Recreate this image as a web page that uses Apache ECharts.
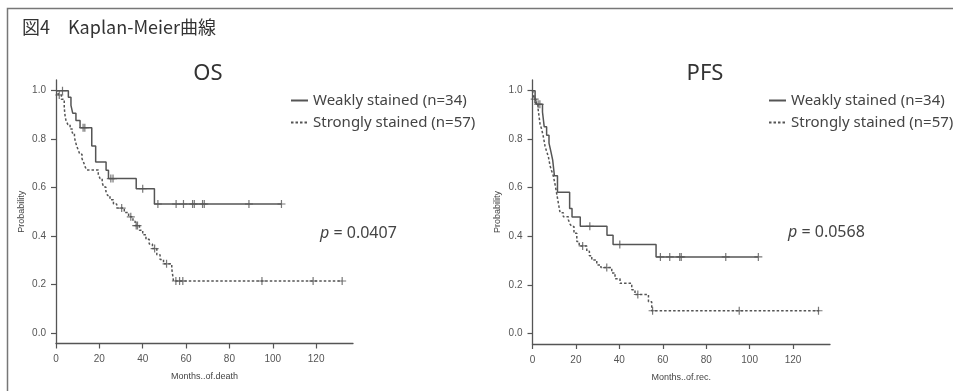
<!DOCTYPE html>
<html>
<head>
<meta charset="utf-8">
<script src="https://cdn.jsdelivr.net/npm/echarts@6/dist/echarts.min.js"></script>
<style>
  html, body { margin: 0; padding: 0; background: #fff; }
  #chart { width: 953px; height: 391px; }
</style>
</head>
<body>
<div id="chart"></div>
<script>
// OS, weakly stained (n=34): step times and survival after each step
const osWeakT = [0, 5.7, 6.9, 7.7, 9.2, 11.1, 16.5, 18.3, 23.1, 24.2, 37, 45.4, 104]
const osWeakS = [1, 0.973, 0.939, 0.907, 0.877, 0.847, 0.772, 0.705, 0.671, 0.637, 0.595, 0.532, 0.532]
const osWeakCens = [3, 12.5, 13.3, 25.3, 26.3, 40, 47, 55.4, 58.8, 63, 63.8, 67.6, 68.4, 89, 104]

// OS, strongly stained (n=57)
const osStrongT = [0, 1.0, 2.5, 3.8, 4.2, 4.6, 5.5, 6.5, 7.5, 8.5, 9.0, 9.5, 10.3, 11.0, 12.0, 12.8, 13.5, 14.2,
  19.5, 20.3, 21.3, 22.0, 23.0, 23.8, 24.9, 26.5, 28.0, 31.5, 33.5, 35.5, 36.5, 38.5, 40.0, 41.5, 43.0, 44.5,
  46.5, 48.0, 49.6, 53.4, 54.2, 132]
const osStrongS = [1, 0.982, 0.965, 0.93, 0.895, 0.877, 0.86, 0.842, 0.825, 0.807, 0.789, 0.772, 0.754, 0.737, 0.719, 0.702, 0.684, 0.672,
  0.655, 0.637, 0.62, 0.602, 0.585, 0.567, 0.55, 0.532, 0.515, 0.497, 0.479, 0.461, 0.443, 0.424, 0.405, 0.386, 0.367, 0.348,
  0.322, 0.303, 0.285, 0.265, 0.214, 0.214]
const osStrongCens = [1.5, 30.3, 34.5, 37, 37.6, 45.5, 51, 55.3, 57, 58.5, 95, 118.6, 132]

// PFS, weakly stained
const pfsWeakT = [0, 1.2, 1.9, 4.6, 5.4, 6.5, 7.6, 8.5, 9.3, 10.1, 11.5, 17.1, 18.2, 22.0, 34.3, 37.1, 56.9, 104]
const pfsWeakS = [1, 0.972, 0.944, 0.912, 0.851, 0.816, 0.784, 0.748, 0.714, 0.649, 0.581, 0.514, 0.479, 0.441, 0.404, 0.366, 0.315, 0.315]
const pfsWeakCens = [2.6, 3.4, 26.4, 40.2, 58.9, 63.2, 67.8, 68.5, 89, 104]

// PFS, strongly stained
const pfsStrongT = [0, 0.5, 1.5, 2.5, 3.0, 3.5, 4.2, 5.0, 5.8, 6.5, 7.3, 8.1, 8.8, 9.6, 10.3, 11.1, 11.9, 12.7, 14.2,
  16.5, 17.3, 18.1, 19.1, 20.4, 21.5, 25.0, 26.2, 27.3, 29.6, 31.5, 36.5, 38.0, 40.3, 45.7, 47.2, 53.4, 54.9, 132]
const pfsStrongS = [1, 0.965, 0.947, 0.93, 0.895, 0.86, 0.842, 0.81, 0.77, 0.75, 0.728, 0.69, 0.67, 0.648, 0.618, 0.578, 0.537, 0.497, 0.48,
  0.468, 0.45, 0.44, 0.412, 0.378, 0.36, 0.338, 0.32, 0.302, 0.282, 0.271, 0.249, 0.225, 0.206, 0.18, 0.16, 0.13, 0.093, 0.093]
const pfsStrongCens = [1.0, 23.1, 34.2, 48.5, 55.3, 95.2, 131.7]

const xTicks = [0, 20, 40, 60, 80, 100, 120]
const yTicks = [0, 0.2, 0.4, 0.6, 0.8, 1.0]
const weakName = 'Weakly stained (n=34)'
const strongName = 'Strongly stained (n=57)'

const lineColor = '#555'
const plusPath = 'path://M3.4,0 H4.6 V3.4 H8 V4.6 H4.6 V8 H3.4 V4.6 H0 V3.4 H3.4 Z'

// survival value at time t (for placing censor marks on the curve)
function survAt(T, S, t) {
  let v = S[0]
  for (let i = 0; i < T.length; i++) {
    if (T[i] <= t) v = S[i]
  }
  return v
}

function curve(name, T, S, idx, dashed) {
  return {
    name: name,
    type: 'line',
    step: 'end',
    xAxisIndex: idx,
    yAxisIndex: idx,
    symbol: 'none',
    silent: true,
    lineStyle: { color: lineColor, width: 1.5, type: dashed ? [2.5, 2] : 'solid' },
    itemStyle: { color: lineColor },
    data: T.map((t, i) => [t, S[i]])
  }
}

function censors(T, S, C, idx) {
  return {
    type: 'scatter',
    xAxisIndex: idx,
    yAxisIndex: idx,
    symbol: plusPath,
    symbolSize: 8,
    silent: true,
    itemStyle: { color: lineColor },
    data: C.map(t => [t, survAt(T, S, t)])
  }
}

function xAxis(idx, name) {
  return {
    type: 'value',
    gridIndex: idx,
    min: 0,
    max: 137,
    name: name,
    nameLocation: 'middle',
    nameGap: 29,
    nameTextStyle: { fontSize: 9, color: '#444', fontFamily: 'Liberation Sans' },
    axisLine: { onZero: false, lineStyle: { color: lineColor, width: 1.3 } },
    axisTick: { customValues: xTicks, length: 5, lineStyle: { color: lineColor, width: 1.2 } },
    axisLabel: { customValues: xTicks, fontSize: 10, color: '#555', margin: 11, fontFamily: 'Liberation Sans' },
    splitLine: { show: false }
  }
}

function yAxis(idx) {
  return {
    type: 'value',
    gridIndex: idx,
    min: -0.044,
    max: 1.044,
    name: 'Probability',
    nameLocation: 'middle',
    nameGap: 30,
    nameTextStyle: { fontSize: 9, color: '#444', fontFamily: 'Liberation Sans' },
    axisLine: { show: true, onZero: false, lineStyle: { color: lineColor, width: 1.3 } },
    axisTick: { show: true, customValues: yTicks, length: 5, lineStyle: { color: lineColor, width: 1.2 } },
    axisLabel: {
      customValues: yTicks,
      fontSize: 10,
      color: '#555',
      margin: 10,
      fontFamily: 'Liberation Sans',
      formatter: v => v.toFixed(1)
    },
    splitLine: { show: false }
  }
}

function legend(left) {
  return {
    orient: 'vertical',
    left: left,
    top: 93,
    padding: 0,
    itemWidth: 17,
    itemHeight: 14,
    itemGap: 7,
    selectedMode: false,
    itemStyle: { opacity: 0 },
    textStyle: { fontSize: 15, color: '#444', fontFamily: 'Noto Sans' },
    data: [weakName, strongName]
  }
}

function pText(left, top, val) {
  return {
    text: '{i|p} = ' + val,
    left: left,
    top: top,
    padding: 0,
    textAlign: 'left',
    textVerticalAlign: 'middle',
    textStyle: {
      fontSize: 16,
      fontWeight: 'normal',
      color: '#444',
      fontFamily: 'Noto Sans',
      rich: { i: { fontStyle: 'italic', fontSize: 16, color: '#444', fontFamily: 'Noto Sans' } }
    }
  }
}

const chart = echarts.init(document.getElementById('chart'), null, { renderer: 'canvas' })
chart.setOption({
  backgroundColor: '#fff',
  animation: false,
  title: [{
    text: '図4　Kaplan-Meier曲線',
    left: 22,
    top: 27,
    padding: 0,
    textAlign: 'left',
    textVerticalAlign: 'middle',
    textStyle: { fontSize: 18, fontWeight: 'normal', color: '#333', fontFamily: 'Noto Sans CJK JP' }
  }, {
    text: 'OS',
    left: 208,
    top: 74,
    padding: 0,
    textAlign: 'center',
    textVerticalAlign: 'middle',
    textStyle: { fontSize: 22, fontWeight: 'normal', color: '#333', fontFamily: 'Noto Sans' }
  }, {
    text: 'PFS',
    left: 705,
    top: 74,
    padding: 0,
    textAlign: 'center',
    textVerticalAlign: 'middle',
    textStyle: { fontSize: 22, fontWeight: 'normal', color: '#333', fontFamily: 'Noto Sans' }
  },
  pText(320, 233, '0.0407'),
  pText(788, 232, '0.0568')
  ],
  legend: [legend(290), legend(768)],
  grid: [
    { left: 56, width: 297, top: 80, height: 263.5 },
    { left: 532.5, width: 297.5, top: 80, height: 264 }
  ],
  xAxis: [xAxis(0, 'Months..of.death'), xAxis(1, 'Months..of.rec.')],
  yAxis: [yAxis(0), yAxis(1)],
  series: [
    curve(weakName, osWeakT, osWeakS, 0, false),
    curve(strongName, osStrongT, osStrongS, 0, true),
    censors(osWeakT, osWeakS, osWeakCens, 0),
    censors(osStrongT, osStrongS, osStrongCens, 0),
    curve(weakName, pfsWeakT, pfsWeakS, 1, false),
    curve(strongName, pfsStrongT, pfsStrongS, 1, true),
    censors(pfsWeakT, pfsWeakS, pfsWeakCens, 1),
    censors(pfsStrongT, pfsStrongS, pfsStrongCens, 1)
  ],
  graphic: [{
    type: 'polyline',
    silent: true,
    shape: { points: [[7.5, 391], [7.5, 8.5], [953, 8.5]] },
    style: { stroke: '#777', lineWidth: 1.5, fill: null }
  }]
})
</script>
</body>
</html>
